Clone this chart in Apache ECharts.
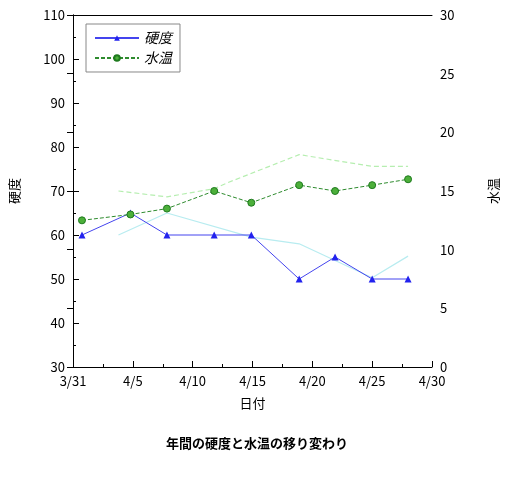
<!DOCTYPE html>
<html>
<head>
<meta charset="utf-8">
<title>硬度と水温</title>
<script src="https://cdn.jsdelivr.net/npm/echarts@6/dist/echarts.min.js"></script>
<style>body{margin:0;background:#fff}</style>
</head>
<body>
<div id="main" style="width:512px;height:477px;"></div>
<script>
// 日は3/31からの経過日数
var dateLabels = ['3/31', '4/5', '4/10', '4/15', '4/20', '4/25', '4/30'];
var days = [0.75, 4.8, 7.85, 11.8, 14.9, 18.9, 21.9, 25, 28];
var hardness = [60, 65, 60, 60, 60, 50, 55, 50, 50];
var waterTemp = [12.5, 13, 13.5, 15, 14, 15.5, 15, 15.5, 16];
var hardTrendDays = [3.8, 7.85, 14.9, 18.9, 25, 28];
var hardTrend = [60, 65, 59.5, 58, 50.3, 55.2];
var tempTrendDays = [3.8, 7.85, 11.8, 12.9, 18.9, 25, 28];
var tempTrend = [15, 14.5, 15.2, 15.7, 18.1, 17.1, 17.1];

function pairs(xs, ys) { return xs.map(function (x, i) { return [x, ys[i]]; }); }

var font = '"Noto Sans CJK JP", sans-serif';
var chart = echarts.init(document.getElementById('main'));
chart.setOption({
  animation: false,
  textStyle: { fontFamily: font },
  grid: { left: 73, right: 80, top: 15, bottom: 110 },
  title: {
    text: '年間の硬度と水温の移り変わり', left: 252, top: 432, textAlign: 'center',
    textStyle: { fontSize: 13, fontWeight: 'bold', color: '#000', fontFamily: font }
  },
  legend: {
    left: 86, top: 24, orient: 'vertical', itemGap: 6, itemWidth: 44, itemHeight: 7,
    borderColor: '#888', borderWidth: 1, padding: [7, 8],
    data: ['硬度', '水温'],
    textStyle: { fontStyle: 'italic', fontSize: 14, color: '#000', fontFamily: font }
  },
  xAxis: [{
    type: 'value', min: 0, max: 30, interval: 5,
    name: '日付', nameLocation: 'middle', nameGap: 30,
    nameTextStyle: { fontSize: 13, color: '#000' },
    axisLine: { lineStyle: { color: '#000' } },
    axisTick: { inside: true, length: 6, lineStyle: { color: '#000' } },
    minorTick: { show: true, splitNumber: 2, length: 3, lineStyle: { color: '#000' } },
    axisLabel: { color: '#000', fontSize: 13, formatter: function (v) { return dateLabels[v / 5]; } },
    splitLine: { show: false }
  }, {
    type: 'value', min: 0, max: 30, position: 'top',
    axisLine: { show: true, lineStyle: { color: '#000' } },
    axisTick: { show: false }, axisLabel: { show: false }, splitLine: { show: false }
  }],
  yAxis: [{
    type: 'value', min: 30, max: 110, interval: 10,
    name: '硬度', nameLocation: 'middle', nameGap: 52, nameRotate: 90,
    nameTextStyle: { fontSize: 13, color: '#000' },
    axisLine: { show: true, lineStyle: { color: '#000' } },
    axisTick: { inside: true, length: 6, lineStyle: { color: '#000' } },
    minorTick: { show: true, splitNumber: 2, length: 3, lineStyle: { color: '#000' } },
    axisLabel: { color: '#000', fontSize: 13 },
    splitLine: { show: false }
  }, {
    type: 'value', min: 0, max: 30, interval: 5, position: 'right',
    name: '水温', nameLocation: 'middle', nameGap: 55, nameRotate: 90,
    nameTextStyle: { fontSize: 13, color: '#000' },
    axisLine: { show: true, lineStyle: { color: '#000' } },
    axisTick: { inside: true, length: 6, lineStyle: { color: '#000' } },
    axisLabel: { color: '#000', fontSize: 13 },
    splitLine: { show: false }
  }],
  series: [{
    type: 'line', silent: true, data: pairs(hardTrendDays, hardTrend), symbol: 'none',
    lineStyle: { color: '#b8ecf0', width: 1.2 }
  }, {
    type: 'line', silent: true, yAxisIndex: 1, data: pairs(tempTrendDays, tempTrend), symbol: 'none',
    lineStyle: { color: '#b6eeb0', width: 1.2, type: [5, 3] }
  }, {
    name: '硬度', type: 'line', data: pairs(days, hardness),
    symbol: 'triangle', symbolSize: 7,
    itemStyle: { color: '#2222ee' }, lineStyle: { color: '#4444ee', width: 1 }
  }, {
    name: '水温', type: 'line', yAxisIndex: 1, data: pairs(days, waterTemp),
    symbol: 'circle', symbolSize: 7,
    itemStyle: { color: '#4caf3a', borderColor: '#1e7a1e', borderWidth: 1 },
    lineStyle: { color: '#2e8b2e', width: 1, type: [4, 2] }
  }]
});
</script>
</body>
</html>
